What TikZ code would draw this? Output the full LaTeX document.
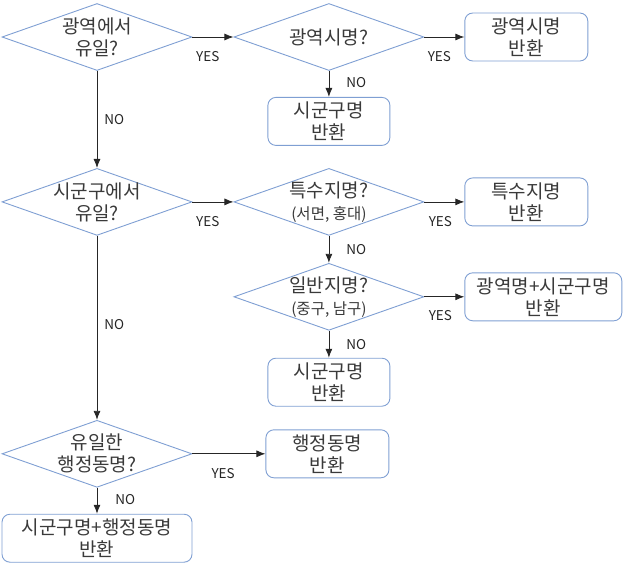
\documentclass[tikz,border=0pt]{standalone}
\usepackage{fontspec}
\setmainfont{Noto Sans CJK KR}
\usepackage{tikz}
\usetikzlibrary{arrows.meta,positioning,shapes.geometric}
\definecolor{flowblue}{HTML}{7F9FD3}
\definecolor{flowtext}{HTML}{3A3A3A}
\newcommand\hintnote[1]{{\fontsize{15.5}{19}\selectfont #1}}

\begin{document}
\begin{tikzpicture}[
  x=1pt, y=1pt,
  font=\fontsize{19}{22}\selectfont, text=flowtext,
  decision/.style={draw=flowblue, diamond, aspect=2.8, inner xsep=-25pt,
    inner ysep=-10pt, align=center, minimum width=190pt, minimum height=67pt,
    line width=0.9pt},
  box/.style={draw=flowblue, rounded corners=8pt, align=center,
    minimum height=48pt, minimum width=123pt, line width=0.9pt},
  lbl/.style={font=\fontsize{13.5}{14}\selectfont, inner sep=0pt},
  arrow/.style={-{Latex[length=9pt,width=7pt]}, line width=0.8pt, black!85}
]
\useasboundingbox (0,0) rectangle (640,-565);

\node[decision] (d1) at (97,-37) {광역에서\\유일?};
\node[decision, right=41pt of d1] (d2) {광역시명?};
\node[box, right=40pt of d2] (r1) {광역시명\\반환};
\node[box, below=26pt of d2, minimum width=122pt] (r2) {시군구명\\반환};

\node[decision, below=97pt of d1] (d3) {시군구에서\\유일?};
\node[decision, right=41pt of d3] (d4) {특수지명?\\\hintnote{(서면, 홍대)}};
\node[box, right=40pt of d4] (r3) {특수지명\\반환};
\node[decision, below=27pt of d4] (d5) {일반지명?\\\hintnote{(중구, 남구)}};
\node[box, right=40pt of d5, minimum width=157pt] (r4) {광역명+시군구명\\반환};
\node[box, below=27pt of d5, minimum width=122pt] (r5) {시군구명\\반환};

\node[decision, below=184pt of d3] (d6) {유일한\\행정동명?};
\node[box, right=73pt of d6] (r6) {행정동명\\반환};
\node[box, below=26pt of d6, minimum width=190pt] (r7) {시군구명+행정동명\\반환};

\draw[arrow] (d1) -- node[lbl, pos=.375, below=14pt] {YES} (d2);
\draw[arrow] (d2) -- node[lbl, pos=.375, below=14pt] {YES} (r1);
\draw[arrow] (d2) -- node[lbl, pos=.45, right=17pt] {NO} (r2);
\draw[arrow] (d1) -- node[lbl, pos=.5, right=7pt] {NO} (d3);
\draw[arrow] (d3) -- node[lbl, pos=.375, below=14pt] {YES} (d4);
\draw[arrow] (d4) -- node[lbl, pos=.4, below=14pt] {YES} (r3);
\draw[arrow] (d4) -- node[lbl, pos=.5, right=17pt] {NO} (d5);
\draw[arrow] (d5) -- node[lbl, pos=.4, below=13pt] {YES} (r4);
\draw[arrow] (d5) -- node[lbl, pos=.5, right=17pt] {NO} (r5);
\draw[arrow] (d3) -- node[lbl, pos=.48, right=7pt] {NO} (d6);
\draw[arrow] (d6) -- node[lbl, pos=.42, below=14pt] {YES} (r6);
\draw[arrow] (d6) -- node[lbl, pos=.46, right=18pt] {NO} (r7);
\end{tikzpicture}
\end{document}
